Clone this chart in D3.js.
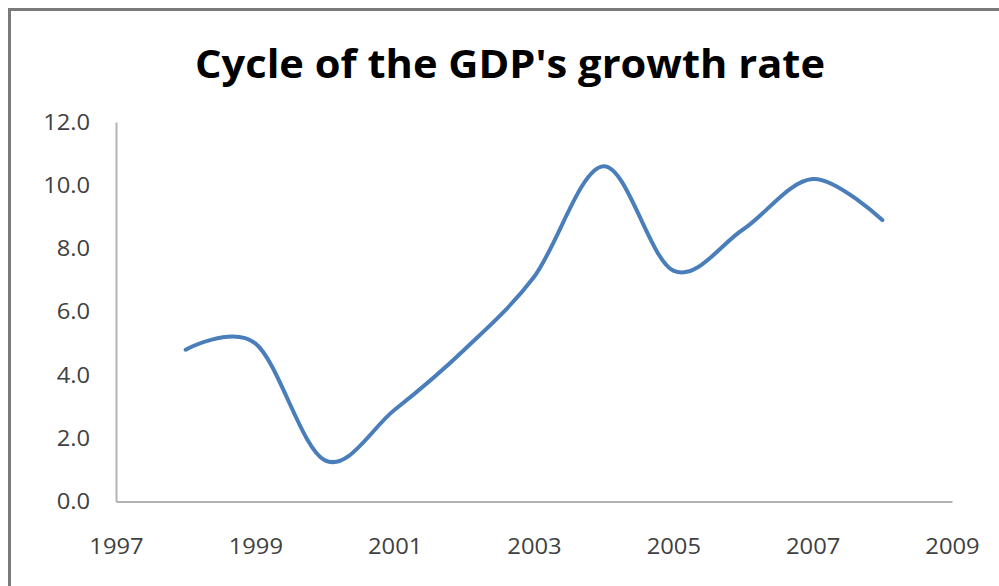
<!DOCTYPE html>
<html>
<head>
<meta charset="utf-8">
<script src="https://cdn.jsdelivr.net/npm/d3@7"></script>
<style>
  body { margin: 0; background: #fff; }
  svg { display: block; }
</style>
</head>
<body>
<div id="chart"></div>
<script>
const years = [1998, 1999, 2000, 2001, 2002, 2003, 2004, 2005, 2006, 2007, 2008];
const growth = [4.8, 5.0, 1.3, 2.9, 4.8, 7.1, 10.6, 7.3, 8.6, 10.2, 8.9];
const xTicks = [1997, 1999, 2001, 2003, 2005, 2007, 2009];
const yTicks = [0, 2, 4, 6, 8, 10, 12];
const title = "Cycle of the GDP's growth rate";

const width = 999, height = 586;
const plotLeft = 116, plotRight = 952, plotTop = 122, plotBottom = 501.5;

const svg = d3.select('#chart').append('svg')
    .attr('width', width)
    .attr('height', height);

svg.append('rect').attr('width', width).attr('height', height).style('fill', '#fff');

// chart area frame (right/bottom edges run off the picture)
svg.append('path')
    .attr('d', `M9.5,${height + 5}V9.5H${width + 5}`)
    .style('fill', 'none')
    .style('stroke', '#7a7a7a')
    .style('stroke-width', 3);

const x = d3.scaleLinear().domain([1997, 2009]).range([plotLeft, plotRight]);
const y = d3.scaleLinear().domain([0, 12]).range([plotBottom, plotTop]);

// the picture is a little stretched sideways, so the title is too
svg.append('text')
    .attr('x', 510)
    .attr('y', 78)
    .attr('text-anchor', 'middle')
    .attr('textLength', 630)
    .attr('lengthAdjust', 'spacingAndGlyphs')
    .style('font-family', '"Open Sans", sans-serif')
    .style('font-weight', 'bold')
    .style('font-size', '39px')
    .style('fill', '#000')
    .text(title);

const xAxis = svg.append('g')
    .attr('transform', `translate(0,${plotBottom})`)
    .call(d3.axisBottom(x).tickValues(xTicks).tickFormat(d3.format('d')).tickSize(0).tickPadding(37));

const yAxis = svg.append('g')
    .attr('transform', `translate(${plotLeft},0)`)
    .call(d3.axisLeft(y).tickValues(yTicks).tickFormat(d3.format('.1f')).tickSize(0).tickPadding(24));

[xAxis, yAxis].forEach(g => {
    g.select('.domain').style('stroke', '#b3b3b3').style('stroke-width', 2);
    g.selectAll('text')
        .attr('transform', 'scale(1.08,1)')
        .style('font-family', '"Open Sans", sans-serif')
        .style('font-size', '22px')
        .style('fill', '#404040');
});

const line = d3.line()
    .x((d, i) => x(years[i]))
    .y(d => y(d))
    .curve(d3.curveCardinal.tension(0));

svg.append('path')
    .datum(growth)
    .attr('d', line)
    .style('fill', 'none')
    .style('stroke', '#4a7ebb')
    .style('stroke-width', 4)
    .style('stroke-linecap', 'round');
</script>
</body>
</html>
